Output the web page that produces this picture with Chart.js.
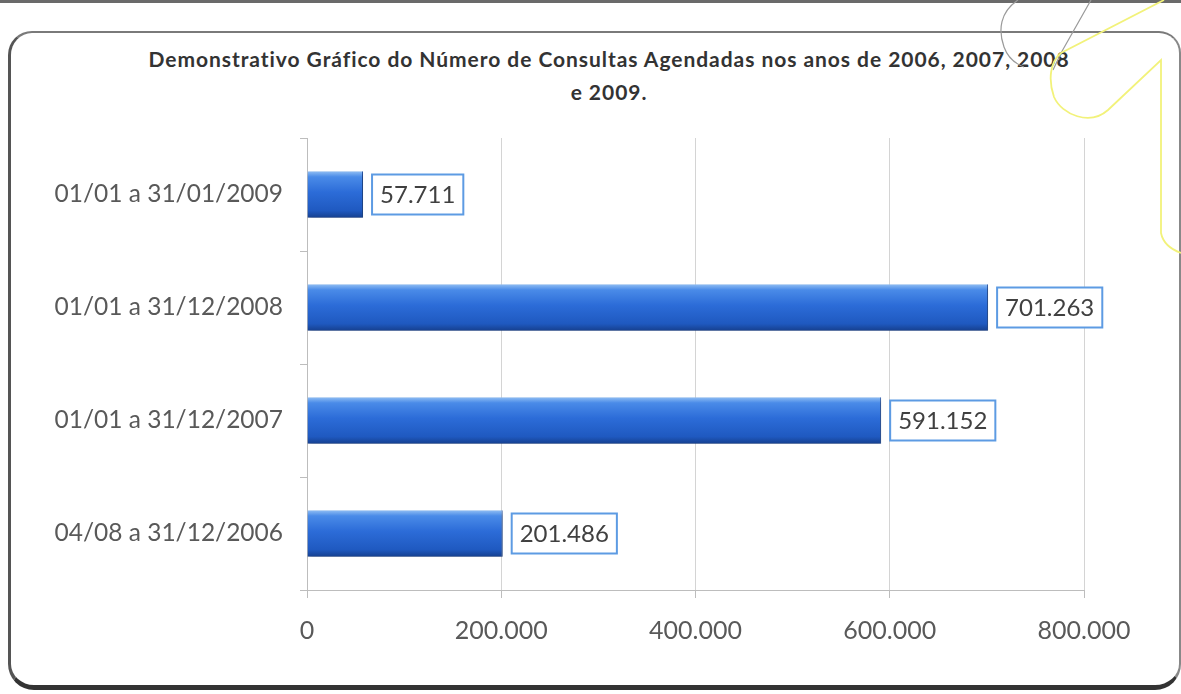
<!DOCTYPE html>
<html>
<head>
<meta charset="utf-8">
<script src="https://cdn.jsdelivr.net/npm/chart.js@4"></script>
<style>
  html, body { margin: 0; padding: 0; background: #fff; }
  #wrap { position: relative; width: 1181px; height: 694px; overflow: hidden; background: #fff; }
  #topline { position: absolute; left: 0; top: 0; width: 1181px; height: 3px; background: #6a6a6a; }
  #frame {
    position: absolute; left: 8px; top: 31px; width: 1168px; height: 652px;
    border: 2px solid #7a7a7a; border-left: 3px solid #555; border-bottom: 5px solid #333;
    border-right: 2px solid #888;
    border-radius: 24px 22px 26px 26px;
  }
  #title {
    position: absolute; left: 0; width: 1218px; top: 42px; text-align: center;
    font: bold 21px Lato, "Open Sans", sans-serif; letter-spacing: 0.95px; color: #333; line-height: 33px;
  }
  canvas { position: absolute; left: 0; top: 0; }
  svg { position: absolute; left: 0; top: 0; pointer-events: none; }
</style>
</head>
<body>
<div id="wrap">
  <div id="topline"></div>
  <div id="frame"></div>
  <div id="title">Demonstrativo Gráfico do Número de Consultas Agendadas nos anos de 2006, 2007, 2008<br>e 2009.</div>
  <canvas id="chart" width="1181" height="694"></canvas>
  <svg width="1181" height="694">
    <path d="M1018,0 C1000,12 998,30 1004,47 C1008,58 1016,64 1024,67" fill="none" stroke="#9a9a9a" stroke-width="1.2"/>
    <path d="M1091,0 L1061,53 L1053,70" fill="none" stroke="#9a9a9a" stroke-width="1.2"/>
    <path d="M1164,0 L1061,53 C1050,62 1048,80 1054,97 C1062,115 1090,126 1108,110 L1161,60 L1161,233 C1163,243 1170,249 1181,253" fill="none" stroke="#f2f27a" stroke-width="1.8"/>
  </svg>
</div>
<script>
const categorias = ["01/01 a 31/01/2009", "01/01 a 31/12/2008", "01/01 a 31/12/2007", "04/08 a 31/12/2006"];
const consultas = [57711, 701263, 591152, 201486];
const eixoMax = 800000;
const eixoPasso = 200000;

const fmt = n => String(Math.round(n)).replace(/\B(?=(\d{3})+(?!\d))/g, ".");

const FONTE = "Lato, 'Open Sans', sans-serif";
const ESPESSURA = 0.41;

// gradiente vertical de cada barra (efeito 3D do Excel)
function corBarra(c) {
  const chart = c.chart;
  const y = chart.scales.y;
  if (!y || !chart.chartArea) return "#2e6fd8";
  const banda = (y.bottom - y.top) / categorias.length;
  const meio = y.getPixelForValue(c.dataIndex);
  const h = banda * ESPESSURA / 2;
  const g = chart.ctx.createLinearGradient(0, meio - h, 0, meio + h);
  g.addColorStop(0, "#8fbdf3");
  g.addColorStop(0.12, "#4a8be8");
  g.addColorStop(0.45, "#2c6cd8");
  g.addColorStop(0.85, "#1f59c0");
  g.addColorStop(1, "#16408f");
  return g;
}

const sombraPlugin = {
  id: "sombra",
  beforeDatasetsDraw(chart) {
    const ctx = chart.ctx;
    ctx.save();
    ctx.shadowColor = "rgba(0,0,0,0.35)";
    ctx.shadowOffsetY = 3;
    ctx.shadowOffsetX = 1;
    ctx.shadowBlur = 4;
  },
  afterDatasetsDraw(chart) {
    chart.ctx.restore();
  }
};

const rotulosPlugin = {
  id: "rotulos",
  afterDatasetsDraw(chart) {
    const ctx = chart.ctx;
    const meta = chart.getDatasetMeta(0);
    ctx.save();
    ctx.font = "24px " + FONTE;
    ctx.textBaseline = "middle";
    meta.data.forEach((bar, i) => {
      const txt = fmt(consultas[i]);
      const w = ctx.measureText(txt).width + 16;
      const h = 40;
      const x = bar.x + 9;
      const y = bar.y - h / 2;
      ctx.fillStyle = "#fff";
      ctx.fillRect(x, y, w, h);
      ctx.strokeStyle = "#5d9be3";
      ctx.lineWidth = 2;
      ctx.strokeRect(x, y, w, h);
      ctx.fillStyle = "#404040";
      ctx.textAlign = "left";
      ctx.fillText(txt, x + 8, bar.y + 1);
    });
    ctx.restore();
  }
};

new Chart(document.getElementById("chart"), {
  type: "bar",
  data: {
    labels: categorias,
    datasets: [{
      data: consultas,
      backgroundColor: corBarra,
      borderColor: "#1a4aa0",
      borderWidth: { right: 1 },
      borderSkipped: false,
      categoryPercentage: 1,
      barPercentage: ESPESSURA
    }]
  },
  options: {
    indexAxis: "y",
    responsive: false,
    animation: false,
    layout: { padding: { top: 138, right: 97, left: 0, bottom: 0 } },
    plugins: { legend: { display: false }, tooltip: { enabled: false }, title: { display: false } },
    scales: {
      x: {
        min: 0,
        max: eixoMax,
        ticks: {
          stepSize: eixoPasso,
          padding: 18,
          color: "#595959",
          font: { family: FONTE, size: 25 },
          callback: v => fmt(v)
        },
        grid: { color: "#d4d4d4", lineWidth: 1, tickLength: 8, tickColor: "#bdbdbd" },
        border: { display: true, color: "#bdbdbd" },
        afterFit: s => { s.height = 104; }
      },
      y: {
        ticks: {
          padding: 17,
          color: "#595959",
          font: { family: FONTE, size: 24.5 }
        },
        grid: { drawOnChartArea: false, tickLength: 7, tickColor: "#bdbdbd", offset: true },
        border: { display: true, color: "#bdbdbd" },
        afterFit: s => { s.width = 307; }
      }
    }
  },
  plugins: [sombraPlugin, rotulosPlugin]
});
</script>
</body>
</html>
